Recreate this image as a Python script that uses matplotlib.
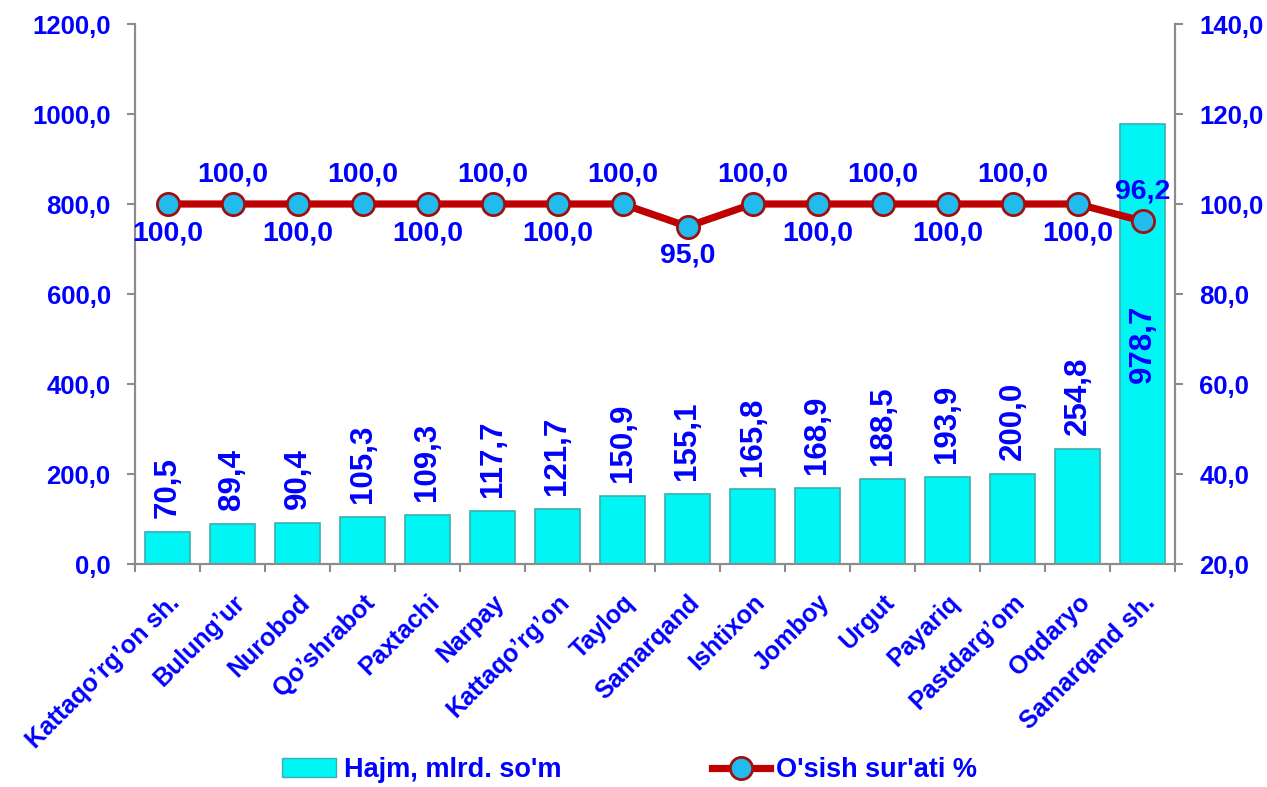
import matplotlib
matplotlib.use("Agg")
import matplotlib.pyplot as plt
from matplotlib.ticker import FixedLocator, FuncFormatter
from matplotlib.lines import Line2D
from matplotlib.patches import Patch

plt.rcParams['font.family'] = ['Liberation Sans', 'DejaVu Sans']
plt.rcParams['font.weight'] = 'bold'

categories = ["Kattaqo\u2019rg\u2019on sh.", "Bulung\u2019ur", "Nurobod", "Qo\u2019shrabot",
              "Paxtachi", "Narpay", "Kattaqo\u2019rg\u2019on", "Tayloq", "Samarqand",
              "Ishtixon", "Jomboy", "Urgut", "Payariq", "Pastdarg\u2019om", "Oqdaryo",
              "Samarqand sh."]
hajm = [70.5, 89.4, 90.4, 105.3, 109.3, 117.7, 121.7, 150.9, 155.1, 165.8, 168.9,
        188.5, 193.9, 200.0, 254.8, 978.7]
osish = [100.0, 100.0, 100.0, 100.0, 100.0, 100.0, 100.0, 100.0, 95.0, 100.0, 100.0,
         100.0, 100.0, 100.0, 100.0, 96.2]
left_ticks = [0, 200, 400, 600, 800, 1000, 1200]
right_ticks = [20, 40, 60, 80, 100, 120, 140]
legend_labels = ["Hajm, mlrd. so'm", "O'sish sur'ati %"]

BLUE = '#0000FF'
GRAY = '#8C8C8C'
BAR_FACE = '#00F5F5'
BAR_EDGE = '#3AAFAF'
LINE_C = '#C00000'
MK_FACE = '#22BBEE'
MK_EDGE = '#A01010'

def fmt(v):
    return f"{v:.1f}".replace('.', ',')

fig = plt.figure(figsize=(12.67, 7.87), dpi=100)
ax = fig.add_axes([135/1267, 1-564/787, (1175-135)/1267, (564-24)/787])
ax2 = ax.twinx()

x = list(range(len(categories)))
ax.bar(x, hajm, width=0.69, color=BAR_FACE, edgecolor=BAR_EDGE, linewidth=1.2, zorder=2)

ax.set_xlim(-0.5, len(categories) - 0.5)
ax.set_ylim(0, 1200)
ax2.set_ylim(20, 140)

# bar labels
for i, v in enumerate(hajm):
    if v > 900:
        ax.text(i, v / 2, fmt(v), rotation=90, ha='center', va='center',
                color=BLUE, fontsize=22.5, fontweight='bold', zorder=5)
    else:
        ax.annotate(fmt(v), (i, v), xytext=(0, 10), textcoords='offset points',
                    rotation=90, ha='center', va='bottom', color=BLUE,
                    fontsize=22.5, fontweight='bold')

# line
ax2.plot(x, osish, color=LINE_C, linewidth=5.2, marker='o', markersize=16,
         markerfacecolor=MK_FACE, markeredgecolor=MK_EDGE, markeredgewidth=2, zorder=4)
for i, v in enumerate(osish):
    dy = 21 if i % 2 == 1 else -21
    ax2.annotate(fmt(v), (i, v), xytext=(0, dy), textcoords='offset points',
                 ha='center', va='center', color=BLUE, fontsize=20.5, fontweight='bold')

# axes styling
ax.yaxis.set_major_locator(FixedLocator(left_ticks))
ax.yaxis.set_major_formatter(FuncFormatter(lambda v, p: fmt(v)))
ax2.yaxis.set_major_locator(FixedLocator(right_ticks))
ax2.yaxis.set_major_formatter(FuncFormatter(lambda v, p: fmt(v)))

ax.set_xticks(x)
ax.set_xticklabels(categories, rotation=45, ha='right', rotation_mode='anchor',
                   color=BLUE, fontsize=18, fontweight='bold')
ax.set_xticks([i - 0.5 for i in range(len(categories) + 1)], minor=True)
ax.tick_params(axis='x', which='major', length=0, pad=19)
ax.tick_params(axis='x', which='minor', length=6, color=GRAY, width=1.5)

for a in (ax, ax2):
    for s in a.spines.values():
        s.set_color(GRAY)
        s.set_linewidth(1.5)
    a.spines['top'].set_visible(False)
ax.tick_params(axis='y', length=5.5, color=GRAY, width=1.5, labelsize=18.5,
               labelcolor=BLUE, pad=12)
ax2.tick_params(axis='y', length=5.5, color=GRAY, width=1.5, labelsize=18.5,
                labelcolor=BLUE, pad=12)
for lab in ax.get_yticklabels() + ax2.get_yticklabels():
    lab.set_fontweight('bold')

h_bar = Patch(facecolor=BAR_FACE, edgecolor=BAR_EDGE)
h_line = Line2D([0], [0], color=LINE_C, linewidth=5.2, marker='o', markersize=16,
                markerfacecolor=MK_FACE, markeredgecolor=MK_EDGE, markeredgewidth=2)
ly = 1 - 770/787
leg1 = fig.legend([h_bar], [legend_labels[0]], loc='center left',
                  bbox_to_anchor=(282/1267, ly), frameon=False, labelcolor=BLUE,
                  handlelength=2.0, handletextpad=0.3, borderpad=0, borderaxespad=0,
                  prop={'weight': 'bold', 'size': 19.5})
leg2 = fig.legend([h_line], [legend_labels[1]], loc='center left',
                  bbox_to_anchor=(712/1267, ly), frameon=False, labelcolor=BLUE,
                  handlelength=2.15, handletextpad=0.2, borderpad=0, borderaxespad=0,
                  prop={'weight': 'bold', 'size': 19.5})

fig.savefig('out.png', dpi=100)
